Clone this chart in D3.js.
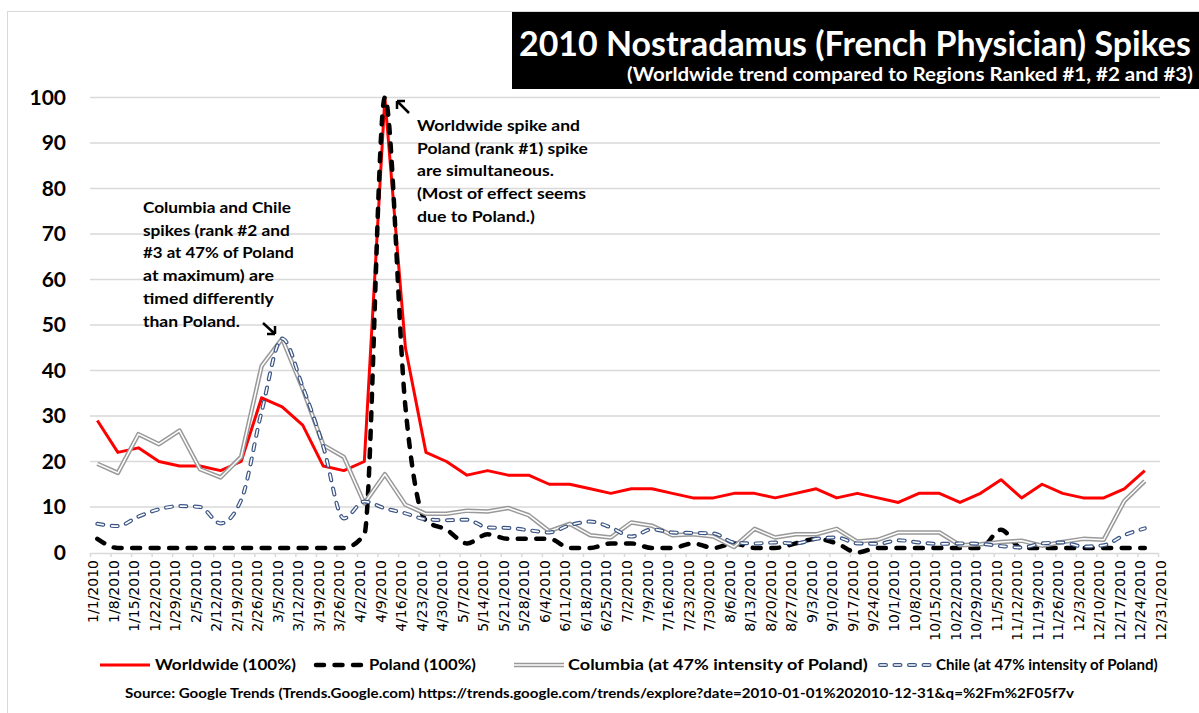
<!DOCTYPE html>
<html><head><meta charset="utf-8">
<script src="https://cdn.jsdelivr.net/npm/d3@7"></script>
<style>body{margin:0;background:#fff}svg{display:block}</style>
</head><body><svg id="c" width="1199" height="713"></svg>
<script>
const tickLabels = ["1/1/2010","1/8/2010","1/15/2010","1/22/2010","1/29/2010","2/5/2010","2/12/2010","2/19/2010","2/26/2010","3/5/2010","3/12/2010","3/19/2010","3/26/2010","4/2/2010","4/9/2010","4/16/2010","4/23/2010","4/30/2010","5/7/2010","5/14/2010","5/21/2010","5/28/2010","6/4/2010","6/11/2010","6/18/2010","6/25/2010","7/2/2010","7/9/2010","7/16/2010","7/23/2010","7/30/2010","8/6/2010","8/13/2010","8/20/2010","8/27/2010","9/3/2010","9/10/2010","9/17/2010","9/24/2010","10/1/2010","10/8/2010","10/15/2010","10/22/2010","10/29/2010","11/5/2010","11/12/2010","11/19/2010","11/26/2010","12/3/2010","12/10/2010","12/17/2010","12/24/2010","12/31/2010"];
const weekDates = ["1/3/2010","1/10/2010","1/17/2010","1/24/2010","1/31/2010","2/7/2010","2/14/2010","2/21/2010","2/28/2010","3/7/2010","3/14/2010","3/21/2010","3/28/2010","4/4/2010","4/11/2010","4/18/2010","4/25/2010","5/2/2010","5/9/2010","5/16/2010","5/23/2010","5/30/2010","6/6/2010","6/13/2010","6/20/2010","6/27/2010","7/4/2010","7/11/2010","7/18/2010","7/25/2010","8/1/2010","8/8/2010","8/15/2010","8/22/2010","8/29/2010","9/5/2010","9/12/2010","9/19/2010","9/26/2010","10/3/2010","10/10/2010","10/17/2010","10/24/2010","10/31/2010","11/7/2010","11/14/2010","11/21/2010","11/28/2010","12/5/2010","12/12/2010","12/19/2010","12/26/2010"];
const worldwide = [29,22,23,20,19,19,18,20,34,32,28,19,18,20,100,45,22,20,17,18,17,17,15,15,14,13,14,14,13,12,12,13,13,12,13,14,12,13,12,11,13,13,11,13,16,12,15,13,12,12,14,18];
const poland = [3,1,1,1,1,1,1,1,1,1,1,1,1,4,100,32,7,5,2,4,3,3,3,1,1,2,2,1,1,2,1,2,1,1,2,3,2,0,1,1,1,1,1,1,5,1,1,1,1,1,1,1];
const columbia = [19.5,17.5,26,23.8,26.8,18.3,16.5,21,41,47,36,23.6,21,10.8,17.2,10.5,8.5,8.5,9.2,9,9.8,8.2,4.7,6.3,3.8,3.3,6.6,5.9,3.8,4,3.5,1.2,5.2,3.3,4,4,5.2,2.4,2.8,4.4,4.4,4.4,1.6,1.8,2.3,2.6,1.5,2.3,3,2.8,11.3,15.7];
const chile = [6.3,5.8,7.9,9.5,10.2,10,6.4,11.5,31,47,36.4,23.3,7.5,11.2,9.7,8.6,7.3,7.1,7.2,5.5,5.4,4.9,4.4,6,6.8,5.5,3.5,5.1,4.4,4.3,4.2,2.2,2,2.2,2,3,3.3,2,1.9,2.7,2.2,1.9,2,1.9,1.4,1.1,2,2.2,1.3,1.6,3.8,5.3];
const yTicks = [0,10,20,30,40,50,60,70,80,90,100];
const titleText = "2010 Nostradamus (French Physician) Spikes";
const subtitleText = "(Worldwide trend compared to Regions Ranked #1, #2 and #3)";
const legendLabels = ["Worldwide (100%)","Poland (100%)","Columbia (at 47% intensity of Poland)","Chile (at 47% intensity of Poland)"];
const note1 = ["Columbia and Chile","spikes (rank #2 and","#3 at 47% of Poland","at maximum) are","timed differently","than Poland."];
const note2 = ["Worldwide spike and","Poland (rank #1) spike","are simultaneous.","(Most of effect seems","due to Poland.)"];
const sourceText = "Source: Google Trends (Trends.Google.com) https://trends.google.com/trends/explore?date=2010-01-01%202010-12-31&q=%2Fm%2F05f7v";

const svg = d3.select("#c");
const parse = d3.utcParse("%m/%d/%Y");
const x = d3.scaleUtc()
  .domain([parse(tickLabels[0]), parse(tickLabels[tickLabels.length - 1])])
  .range([90, 1158]);
const y = d3.scaleLinear().domain([0, 100]).range([552.5, 97.5]);
const HALF_DAY = 12 * 3600 * 1000;
const px = d => x(new Date(parse(d).getTime() + HALF_DAY));
const BOLD = "Lato, 'Open Sans', sans-serif";

// text fitted to a target width by horizontal scaling
function fitText(parent, str, x0, y0, width, size, fill) {
  const t = parent.append("text").attr("x", 0).attr("y", 0).attr("fill", fill || "#000")
    .style("font-family", BOLD).style("font-weight", "bold").style("font-size", size + "px").text(str);
  const w = t.node().getComputedTextLength();
  t.attr("transform", `translate(${x0},${y0}) scale(${width / w},1)`);
  return t;
}

// chart border
svg.append("rect").attr("x", 7.5).attr("y", 11.5).attr("width", 1300).attr("height", 800)
  .attr("fill", "none").attr("stroke", "#d9d9d9").attr("stroke-width", 1);

// title box
svg.append("rect").attr("x", 512).attr("y", 12).attr("width", 700).attr("height", 77).attr("fill", "#000");
fitText(svg, titleText, 519, 56, 672, 35, "#fff");
fitText(svg, subtitleText, 627, 81, 566, 18, "#fff");

// gridlines
svg.append("g").selectAll("line").data(yTicks.filter(v => v > 0)).join("line")
  .attr("x1", 90).attr("x2", 1160).attr("y1", d => y(d)).attr("y2", d => y(d))
  .attr("stroke", "#d9d9d9").attr("stroke-width", 1.5);

// y labels
svg.append("g").selectAll("text").data(yTicks).join("text")
  .attr("x", 66).attr("y", d => y(d)).attr("dy", "0.35em").attr("text-anchor", "end")
  .style("font-family", BOLD).style("font-weight", "bold").style("font-size", "21px")
  .attr("fill", "#000").text(d => d);

// x axis
const xAxis = d3.axisBottom(x).tickValues(tickLabels.map(parse)).tickSize(4).tickSizeOuter(0).tickFormat("");
const gx = svg.append("g").attr("transform", `translate(0,${y(0) + 0.5})`).call(xAxis);
gx.select(".domain").attr("stroke", "#d9d9d9").attr("stroke-width", 1.5);
gx.selectAll(".tick line").attr("stroke", "#d9d9d9").attr("stroke-width", 1.5);
svg.append("g").selectAll("text").data(tickLabels).join("text")
  .attr("transform", d => `translate(${x(parse(d)) + 3},560) rotate(-90)`)
  .attr("text-anchor", "end").attr("dominant-baseline", "central")
  .style("font-family", "'DejaVu Sans', sans-serif").style("font-size", "14px").attr("fill", "#000")
  .text(d => d);

// clip
svg.append("clipPath").attr("id", "plot").append("rect").attr("x", 85).attr("y", 94).attr("width", 1080).attr("height", 470);
const plot = svg.append("g").attr("clip-path", "url(#plot)");

const straight = d3.line().x((d, i) => px(weekDates[i])).y(d => y(d));
const smooth = d3.line().x((d, i) => px(weekDates[i])).y(d => y(d)).curve(d3.curveMonotoneX);

// styles
function drawWorld(g, gen, data) {
  g.append("path").attr("d", gen(data)).attr("fill", "none").attr("stroke", "#ff0000").attr("stroke-width", 3).attr("stroke-linejoin", "round");
}
function drawPoland(g, gen, data) {
  g.append("path").attr("d", gen(data)).attr("fill", "none").attr("stroke", "#000").attr("stroke-width", 4.5)
    .attr("stroke-dasharray", "8,10.5").attr("stroke-linecap", "round");
}
function drawColumbia(g, gen, data) {
  g.append("path").attr("d", gen(data)).attr("fill", "none").attr("stroke", "#999").attr("stroke-width", 4.5).attr("stroke-linejoin", "round");
  g.append("path").attr("d", gen(data)).attr("fill", "none").attr("stroke", "#fff").attr("stroke-width", 1.5).attr("stroke-linejoin", "round");
}
function drawChile(g, gen, data) {
  g.append("path").attr("d", gen(data)).attr("fill", "none").attr("stroke", "#3b5585").attr("stroke-width", 4)
    .attr("stroke-dasharray", "6,8.5").attr("stroke-linecap", "round");
  g.append("path").attr("d", gen(data)).attr("fill", "none").attr("stroke", "#fff").attr("stroke-width", 1.6)
    .attr("stroke-dasharray", "6,8.5").attr("stroke-linecap", "round");
}
drawWorld(plot, straight, worldwide);
drawPoland(plot, smooth, poland);
drawColumbia(plot, straight, columbia);
drawChile(plot, smooth, chile);

// annotations
function note(lines, x0, y0, widths) {
  const g = svg.append("g");
  lines.forEach((s, i) => fitText(g, s, x0, y0 + i * 22.7, widths[i], 16));
}
note(note1, 143, 213, [148, 147, 151, 131, 131, 97]);
note(note2, 417, 131, [163, 171, 137, 169, 118]);

// arrows
svg.append("path").attr("d", "M263,323 L275,334 M275,334 L275,326 M275,334 L267,334")
  .attr("stroke", "#000").attr("stroke-width", 2.5).attr("fill", "none");
svg.append("path").attr("d", "M409,113 L397,101 M397,101 L397,109 M397,101 L405,101")
  .attr("stroke", "#000").attr("stroke-width", 2.5).attr("fill", "none");

// legend
const leg = svg.append("g");
const lx = [[100, 150, 155, 141], [316, 365, 369, 107], [514, 564, 568, 300], [880, 930, 936, 222]];
const drawers = [drawWorld, drawPoland, drawColumbia, drawChile];
const legLine = d3.line();
legendLabels.forEach((lab, i) => {
  const [a, b, t, w] = lx[i];
  drawers[i](leg, legLine, [[a, 665], [b, 665]]);
  fitText(leg, lab, t, 670, w, 15);
});

// source
fitText(svg, sourceText, 125, 698, 950, 13);
</script></body></html>
